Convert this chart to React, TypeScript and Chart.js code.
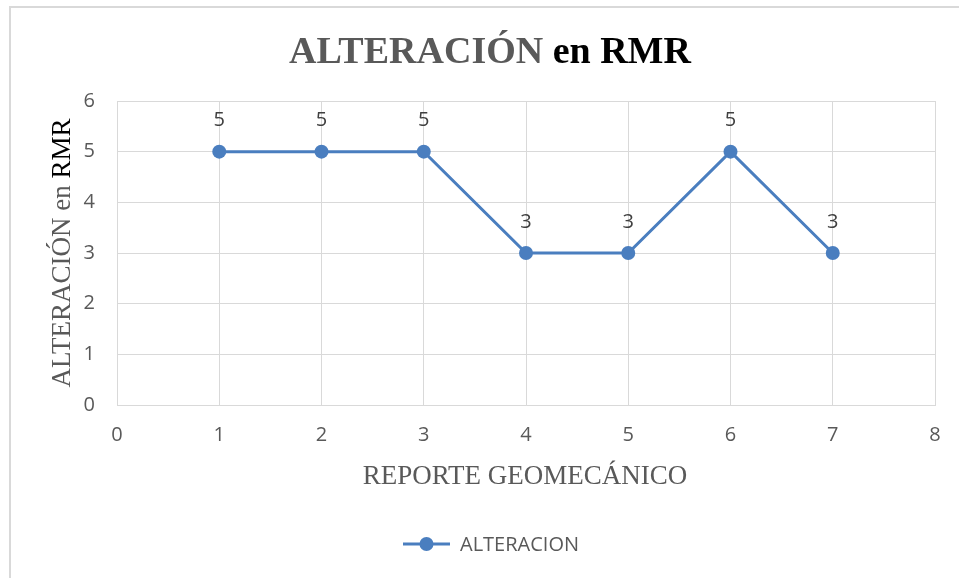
import { useEffect, useRef } from "react";
import { Chart, registerables } from "chart.js";

Chart.register(...registerables);

const reportes = [1, 2, 3, 4, 5, 6, 7];
const alteracion = [5, 5, 5, 3, 3, 5, 3];
const seriesName = "ALTERACION";
const xTicks = [0, 1, 2, 3, 4, 5, 6, 7, 8];
const yTicks = [0, 1, 2, 3, 4, 5, 6];

const BLUE = "#4a7ebf";
const GRAY = "#595959";
const SERIF = "'Liberation Serif', 'Times New Roman', serif";
const SANS = "'Open Sans', 'Liberation Sans', sans-serif";

const decorPlugin = {
  id: "decor",
  afterDraw(chart: any) {
    const ctx = chart.ctx as CanvasRenderingContext2D;
    const area = chart.chartArea;
    ctx.save();
    // title with two colours
    ctx.font = `bold 38px ${SERIF}`;
    ctx.textBaseline = "alphabetic";
    const t1 = "ALTERACIÓN ";
    const t2 = "en RMR";
    const w1 = ctx.measureText(t1).width;
    const w2 = ctx.measureText(t2).width;
    const x = 490 - (w1 + w2) / 2;
    ctx.fillStyle = GRAY;
    ctx.textAlign = "left";
    ctx.fillText(t1, x, 63);
    ctx.fillStyle = "#000";
    ctx.fillText(t2, x + w1, 63);

    // y axis title
    ctx.save();
    ctx.translate(70, 253);
    ctx.rotate(-Math.PI / 2);
    ctx.font = `27px ${SERIF}`;
    const y1 = "ALTERACIÓN en ";
    const y2 = "RMR";
    const v1 = ctx.measureText(y1).width;
    const v2 = ctx.measureText(y2).width;
    const sx = -(v1 + v2) / 2;
    ctx.fillStyle = GRAY;
    ctx.fillText(y1, sx, 0);
    ctx.fillStyle = "#000";
    ctx.fillText(y2, sx + v1, 0);
    ctx.restore();

    // x axis title
    ctx.font = `27px ${SERIF}`;
    ctx.fillStyle = GRAY;
    ctx.textAlign = "center";
    ctx.fillText("REPORTE GEOMECÁNICO", 525, 484);

    // data labels
    const meta = chart.getDatasetMeta(0);
    ctx.font = `20px ${SANS}`;
    ctx.fillStyle = "#404040";
    ctx.textAlign = "center";
    ctx.textBaseline = "middle";
    meta.data.forEach((pt: any, i: number) => {
      ctx.fillText(String(alteracion[i]), pt.x, pt.y - 31);
    });

    // legend
    const lx = 403, ly = 544;
    ctx.strokeStyle = BLUE;
    ctx.lineWidth = 3;
    ctx.beginPath();
    ctx.moveTo(lx, ly);
    ctx.lineTo(lx + 47, ly);
    ctx.stroke();
    ctx.fillStyle = BLUE;
    ctx.beginPath();
    ctx.arc(lx + 23.5, ly, 7, 0, Math.PI * 2);
    ctx.fill();
    ctx.font = `20px ${SANS}`;
    ctx.fillStyle = GRAY;
    ctx.textAlign = "left";
    ctx.textBaseline = "middle";
    ctx.fillText(seriesName, 460, ly + 1);
    ctx.restore();
  },
};

export default function App() {
  const ref = useRef<HTMLCanvasElement | null>(null);
  useEffect(() => {
    document.body.style.margin = "0";
    const chart = new Chart(ref.current as HTMLCanvasElement, {
      type: "line",
      data: {
        datasets: [
          {
            label: seriesName,
            data: reportes.map((r, i) => ({ x: r, y: alteracion[i] })),
            borderColor: BLUE,
            backgroundColor: BLUE,
            borderWidth: 3,
            pointRadius: 7,
            pointHoverRadius: 7,
            pointBackgroundColor: BLUE,
            pointBorderColor: BLUE,
            pointBorderWidth: 0,
            tension: 0,
          },
        ],
      },
      options: {
        animation: false,
        responsive: false,
        maintainAspectRatio: false,
        layout: { padding: { left: 0, top: 101, right: 24, bottom: 0 } },
        plugins: {
          legend: { display: false },
          title: { display: false },
          tooltip: { enabled: false },
        },
        scales: {
          x: {
            type: "linear",
            min: xTicks[0],
            max: xTicks[xTicks.length - 1],
            afterBuildTicks: (s: any) => {
              s.ticks = xTicks.map((v) => ({ value: v }));
            },
            afterFit: (s: any) => {
              s.height = 173;
            },
            grid: { color: "#d9d9d9", lineWidth: 1, drawTicks: false },
            border: { color: "#d9d9d9", width: 1 },
            ticks: {
              color: GRAY,
              font: { family: SANS, size: 20 },
              padding: 18,
            },
          },
          y: {
            type: "linear",
            min: yTicks[0],
            max: yTicks[yTicks.length - 1],
            afterBuildTicks: (s: any) => {
              s.ticks = yTicks.map((v) => ({ value: v }));
            },
            afterFit: (s: any) => {
              s.width = 117;
            },
            grid: { color: "#d9d9d9", lineWidth: 1, drawTicks: false },
            border: { color: "#d9d9d9", width: 1 },
            ticks: {
              color: GRAY,
              font: { family: SANS, size: 20 },
              padding: 22,
            },
          },
        },
      },
      plugins: [decorPlugin],
    });
    return () => chart.destroy();
  }, []);
  return (
    <div style={{ position: "relative", width: 959, height: 578, background: "#fff" }}>
      <div
        style={{
          position: "absolute",
          left: 9,
          top: 6,
          width: 960,
          height: 580,
          border: "2px solid #d9d9d9",
          boxSizing: "border-box",
        }}
      />
      <canvas ref={ref} width={959} height={578} style={{ position: "absolute", left: 0, top: 0 }} />
    </div>
  );
}
